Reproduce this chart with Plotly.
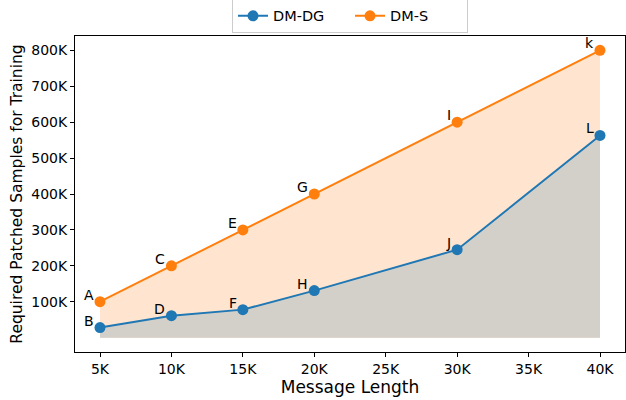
import plotly.graph_objects as go

msg_len = [5000, 10000, 15000, 20000, 30000, 40000]
dm_dg = [28000, 61000, 78000, 131000, 245000, 563000]
dm_s = [100000, 200000, 300000, 400000, 600000, 800000]
dg_labels = ["B", "D", "F", "H", "J", "L"]
s_labels = ["A", "C", "E", "G", "I", "k"]
x_ticks = [5000, 10000, 15000, 20000, 25000, 30000, 35000, 40000]
x_ticktext = ["5K", "10K", "15K", "20K", "25K", "30K", "35K", "40K"]
y_ticks = [100000, 200000, 300000, 400000, 500000, 600000, 700000, 800000]
y_ticktext = ["100K", "200K", "300K", "400K", "500K", "600K", "700K", "800K"]

BLUE = "#1f77b4"
ORANGE = "#ff7f0e"
FONT = "DejaVu Sans"

fig = go.Figure()
fig.add_trace(go.Scatter(x=msg_len, y=dm_s, fill="tozeroy", mode="none",
                         fillcolor="rgba(255,127,14,0.2)", showlegend=False, hoverinfo="skip"))
fig.add_trace(go.Scatter(x=msg_len, y=dm_dg, fill="tozeroy", mode="none",
                         fillcolor="#d3d0ca", showlegend=False, hoverinfo="skip"))
fig.add_trace(go.Scatter(x=msg_len, y=dm_dg, mode="lines+markers", name="DM-DG",
                         line=dict(color=BLUE, width=2), marker=dict(size=11, color=BLUE)))
fig.add_trace(go.Scatter(x=msg_len, y=dm_s, mode="lines+markers", name="DM-S",
                         line=dict(color=ORANGE, width=2), marker=dict(size=11, color=ORANGE)))

for xs, ys, labs in [(msg_len, dm_dg, dg_labels), (msg_len, dm_s, s_labels)]:
    for x, y, t in zip(xs, ys, labs):
        fig.add_annotation(x=x, y=y, text=t, showarrow=False, xanchor="right", yanchor="bottom",
                           xshift=-4, yshift=-3, font=dict(family=FONT, size=14, color="black"))

axis_common = dict(showline=True, linecolor="black", linewidth=1, mirror=True, ticks="outside",
                   ticklen=4, tickcolor="black", showgrid=False, zeroline=False, automargin=False,
                   tickfont=dict(family=FONT, size=14, color="black"))
fig.update_xaxes(range=[3250, 41750], tickvals=x_ticks, ticktext=x_ticktext,
                 title=dict(text="Message Length", font=dict(family=FONT, size=17, color="black"), standoff=4),
                 **axis_common)
fig.update_yaxes(range=[-40000, 840000], tickvals=y_ticks, ticktext=y_ticktext,
                 title=dict(text="Required Patched Samples for Training",
                            font=dict(family=FONT, size=15.5, color="black"), standoff=4),
                 **axis_common)

fig.update_layout(
    width=626, height=400,
    margin=dict(l=75, r=1, t=36, b=48, autoexpand=False),
    plot_bgcolor="white", paper_bgcolor="white",
    font=dict(family=FONT, color="black"),
    legend=dict(orientation="h", x=0.5, xanchor="center", y=1.01, yanchor="bottom",
                bordercolor="#cccccc", borderwidth=1, font=dict(family=FONT, size=14.5),
                itemwidth=30, entrywidth=72, tracegroupgap=0),
)

fig.write_html("out.html", config={"displayModeBar": False},
               post_script="document.body.style.margin='0';")
